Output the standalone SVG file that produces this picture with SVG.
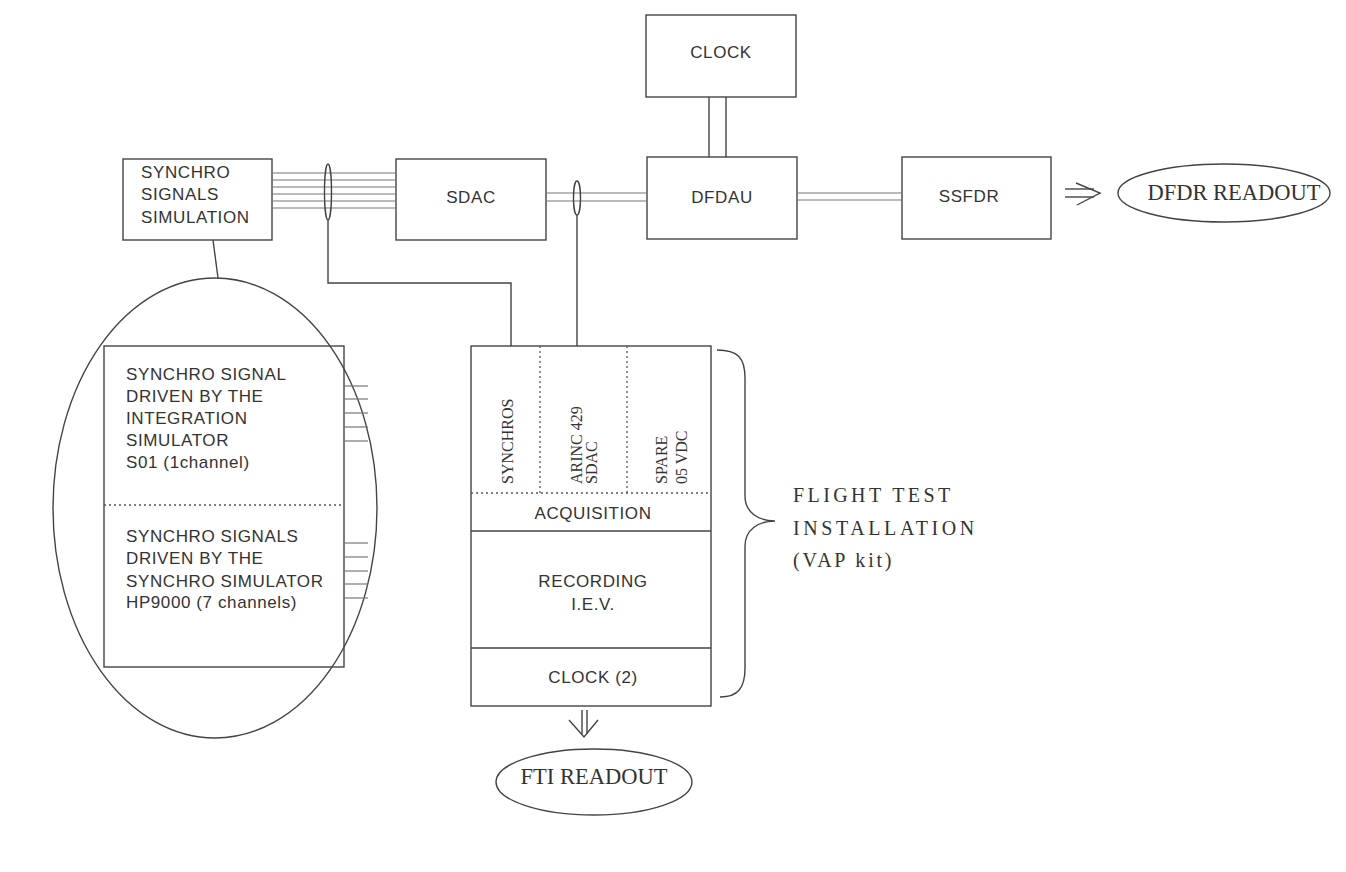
<svg xmlns="http://www.w3.org/2000/svg" width="1346" height="872" viewBox="0 0 1346 872">
<style>
.box{fill:none;stroke:#444;stroke-width:1.4}
.wire{fill:none;stroke:#777;stroke-width:1.2}
.line{fill:none;stroke:#444;stroke-width:1.4}
.dot{fill:none;stroke:#555;stroke-width:1.3;stroke-dasharray:2 3}
.sans{font-family:"Liberation Sans",Arial,sans-serif;font-size:17px;fill:#333;letter-spacing:0.6px}
.serif{font-family:"Liberation Serif","Times New Roman",serif;fill:#333}
.c{text-anchor:middle}
</style>
<rect width="1346" height="872" fill="#ffffff"/>

<g id="synchro-sim">
<rect class="box" x="123" y="159" width="149" height="81"/>
<text class="sans" x="141" y="178">SYNCHRO</text>
<text class="sans" x="141" y="200">SIGNALS</text>
<text class="sans" x="141" y="223">SIMULATION</text>
</g>

<g id="sdac">
<rect class="box" x="396" y="159" width="150" height="81"/>
<text class="sans c" x="471" y="203">SDAC</text>
</g>

<g id="clock">
<rect class="box" x="646" y="15" width="150" height="82"/>
<text class="sans c" x="721" y="58">CLOCK</text>
</g>

<g id="dfdau">
<rect class="box" x="647" y="157" width="150" height="82"/>
<text class="sans c" x="722" y="203">DFDAU</text>
</g>

<g id="ssfdr">
<rect class="box" x="902" y="157" width="149" height="82"/>
<text class="sans c" x="969" y="202">SSFDR</text>
</g>

<g id="dfdr-readout">
<ellipse class="line" cx="1224" cy="193" rx="106" ry="29"/>
<text class="serif c" x="1234" y="200" font-size="22.5">DFDR READOUT</text>
</g>

<g id="fti-readout">
<ellipse class="line" cx="594" cy="782" rx="98" ry="33"/>
<text class="serif c" x="594" y="784" font-size="22.5">FTI READOUT</text>
</g>

<g id="detail">
<ellipse class="line" cx="215" cy="508" rx="162" ry="230" stroke-width="1.2"/>
<rect class="box" x="104" y="346" width="240" height="321"/>
<line class="dot" x1="104" y1="505" x2="344" y2="505"/>
<text class="sans" x="126" y="380">SYNCHRO SIGNAL</text>
<text class="sans" x="126" y="402">DRIVEN BY THE</text>
<text class="sans" x="126" y="424">INTEGRATION</text>
<text class="sans" x="126" y="446">SIMULATOR</text>
<text class="sans" x="126" y="468">S01 (1channel)</text>
<text class="sans" x="126" y="542">SYNCHRO SIGNALS</text>
<text class="sans" x="126" y="564">DRIVEN BY THE</text>
<text class="sans" x="126" y="587">SYNCHRO SIMULATOR</text>
<text class="sans" x="126" y="608">HP9000 (7 channels)</text>
<g class="wire">
<line x1="344" y1="386" x2="368" y2="386"/>
<line x1="344" y1="399" x2="368" y2="399"/>
<line x1="344" y1="413" x2="368" y2="413"/>
<line x1="344" y1="427" x2="368" y2="427"/>
<line x1="344" y1="441" x2="368" y2="441"/>
<line x1="344" y1="543" x2="368" y2="543"/>
<line x1="344" y1="557" x2="368" y2="557"/>
<line x1="344" y1="571" x2="368" y2="571"/>
<line x1="344" y1="584" x2="368" y2="584"/>
<line x1="344" y1="598" x2="368" y2="598"/>
</g>
</g>

<g id="fti">
<rect class="box" x="471" y="346" width="240" height="360"/>
<line class="dot" x1="540" y1="346" x2="540" y2="493"/>
<line class="dot" x1="627" y1="346" x2="627" y2="493"/>
<line class="dot" x1="471" y1="493" x2="711" y2="493"/>
<line class="line" x1="471" y1="531" x2="711" y2="531"/>
<line class="line" x1="471" y1="648" x2="711" y2="648"/>
<text class="serif" font-size="16" transform="translate(513,484) rotate(-90)">SYNCHROS</text>
<text class="serif" font-size="16" transform="translate(582,484) rotate(-90)">ARINC 429</text>
<text class="serif" font-size="16" transform="translate(597,484) rotate(-90)">SDAC</text>
<text class="serif" font-size="16" transform="translate(667,484) rotate(-90)">SPARE</text>
<text class="serif" font-size="16" transform="translate(687,484) rotate(-90)">05 VDC</text>
<text class="sans c" x="593" y="519">ACQUISITION</text>
<text class="sans c" x="593" y="587">RECORDING</text>
<text class="sans c" x="593" y="610">I.E.V.</text>
<text class="sans c" x="593" y="683">CLOCK (2)</text>
</g>

<g id="fti-label">
<path class="line" d="M717,350 C738,350 745,358 745,378 L745,496 C745,512 758,521 775,521 C758,521 745,530 745,546 L745,668 C745,688 738,697 720,697"/>
<text class="serif" font-size="20" letter-spacing="3.4" x="793" y="502">FLIGHT TEST</text>
<text class="serif" font-size="20" letter-spacing="3.6" x="793" y="535">INSTALLATION</text>
<text class="serif" font-size="20" letter-spacing="2.8" x="793" y="567">(VAP kit)</text>
</g>

<g id="connectors">
<g class="wire">
<line x1="272" y1="173" x2="396" y2="173"/>
<line x1="272" y1="180" x2="396" y2="180"/>
<line x1="272" y1="187" x2="396" y2="187"/>
<line x1="272" y1="194" x2="396" y2="194"/>
<line x1="272" y1="201" x2="396" y2="201"/>
<line x1="272" y1="208" x2="396" y2="208"/>
<line x1="546" y1="193" x2="647" y2="193"/>
<line x1="546" y1="201" x2="647" y2="201"/>
<line x1="797" y1="193" x2="902" y2="193"/>
<line x1="797" y1="200" x2="902" y2="200"/>
</g>
<line class="line" x1="709" y1="97" x2="709" y2="157"/>
<line class="line" x1="726" y1="97" x2="726" y2="157"/>
<ellipse class="line" cx="328" cy="192" rx="3.5" ry="28"/>
<ellipse class="line" cx="577" cy="198" rx="3.5" ry="17"/>
<polyline class="line" points="328,220 328,283 511,283 511,346"/>
<line class="line" x1="577" y1="215" x2="577" y2="346"/>
<line class="line" x1="213" y1="240" x2="218" y2="278" stroke-width="1.1"/>
<g class="line">
<line x1="1065" y1="189" x2="1094" y2="189"/>
<line x1="1065" y1="197" x2="1094" y2="197"/>
<polyline points="1076,183 1100,193 1077,205"/>
<line x1="582" y1="710" x2="582" y2="734"/>
<line x1="587" y1="710" x2="587" y2="734"/>
<polyline points="569,720 584,737 598,720"/>
</g>
</g>
</svg>
